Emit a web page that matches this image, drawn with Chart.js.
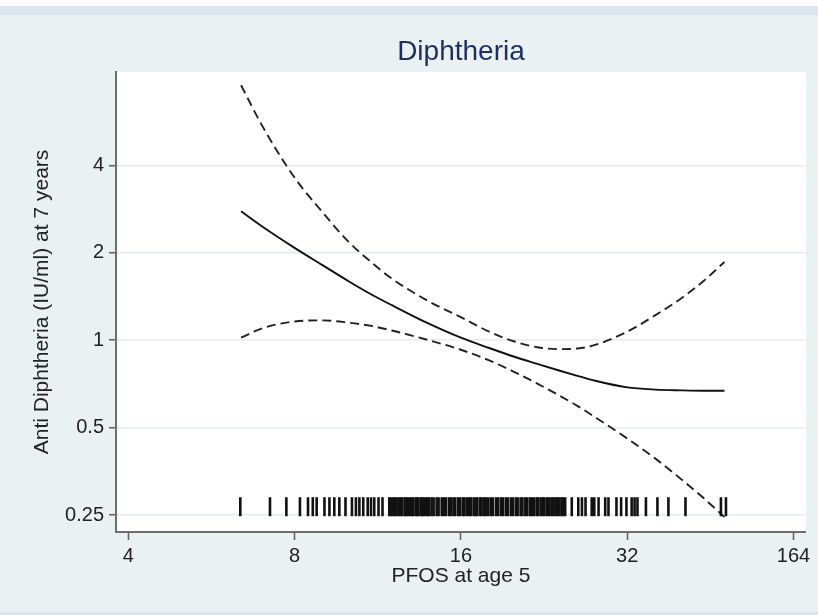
<!DOCTYPE html>
<html>
<head>
<meta charset="utf-8">
<script src="https://cdn.jsdelivr.net/npm/chart.js@4.4.1/dist/chart.umd.min.js"></script>
<style>
  body { margin: 0; background: #e9f1f3; }
  #wrap { width: 818px; height: 615px; }
</style>
</head>
<body>
<div id="wrap"><canvas id="pfosChart" width="818" height="615"></canvas></div>
<script>
const pfos = [6.4, 7, 8, 9, 10, 11, 12, 14, 16, 18, 20, 22, 24, 26, 28, 32, 36, 40, 44, 48];
const fitted = [2.78, 2.46, 2.08, 1.81, 1.60, 1.44, 1.32, 1.14, 1.02, 0.94, 0.877, 0.829, 0.788, 0.754, 0.725, 0.688, 0.676, 0.672, 0.67, 0.67];
const upperCI = [7.55, 5.45, 3.63, 2.75, 2.19, 1.86, 1.63, 1.36, 1.20, 1.07, 0.99, 0.946, 0.932, 0.936, 0.963, 1.07, 1.22, 1.39, 1.60, 1.86];
const lowerCI = [1.02, 1.10, 1.16, 1.17, 1.15, 1.12, 1.08, 1.00, 0.927, 0.852, 0.777, 0.709, 0.648, 0.594, 0.543, 0.459, 0.391, 0.333, 0.286, 0.246];

// observed PFOS values (rug)
const rugValues = [
  6.38, 7.22, 7.73, 8.18, 8.46, 8.63, 8.77, 9.06, 9.25, 9.44, 9.64, 9.89,
  10.16, 10.33, 10.48, 10.65, 10.85, 11.0, 11.15, 11.35, 11.54,
  11.87, 11.95, 12.07, 12.16, 12.24, 12.36, 12.45, 12.53, 12.66, 12.74, 12.83,
  12.95, 13.04, 13.12, 13.25, 13.33, 13.41, 13.55, 13.62, 13.71, 13.84, 13.92, 14.02,
  14.16, 14.28, 14.46, 14.58, 14.77, 14.9, 15.03, 15.22, 15.34, 15.51, 15.63, 15.82,
  15.94, 16.12, 16.24, 16.41, 16.57, 16.68, 16.87, 17.01, 17.13, 17.32, 17.44, 17.62,
  17.74, 17.93, 18.12, 18.28, 18.52, 18.69, 18.91, 19.08, 19.31, 19.48, 19.72, 19.88,
  20.12, 20.27, 20.52, 20.68, 20.93, 21.08, 21.32, 21.51, 21.68, 21.93, 22.08, 22.31,
  22.52, 22.67, 22.92, 23.08, 23.33, 23.49, 23.72, 23.91, 24.1, 24.33, 24.48, 24.71,
  25.4, 26.1, 26.5, 26.9, 27.6, 27.9, 28.4, 29.2, 29.6, 30.6, 31.2, 31.9,
  32.6, 33.0, 33.4, 34.6, 36.3, 38.0, 40.8, 47.3, 48.3
];
const rugLevel = 0.267;

const xTicks = [4, 8, 16, 32, 64];
const xTickLabels = ['4', '8', '16', '32', '164'];
const yTicks = [0.25, 0.5, 1, 2, 4];
const yTickLabels = ['0.25', '0.5', '1', '2', '4'];

const chartTitle = 'Diphtheria';
const fontFamily = 'Arial, "Liberation Sans", Helvetica, sans-serif';

function toPoints(ys) {
    return pfos.map((x, i) => ({ x: x, y: ys[i] }));
}

// page background, white plot region and the title centred over the plot
const backdrop = {
    id: 'backdrop',
    beforeDraw(chart) {
        const c = chart.ctx;
        const a = chart.chartArea;
        c.save();
        c.fillStyle = '#e9f1f3';
        c.fillRect(0, 0, chart.width, chart.height);
        c.fillStyle = '#ffffff';
        c.fillRect(0, 0, chart.width, 6);
        c.fillStyle = '#dbe6f1';
        c.fillRect(0, 6, chart.width, 9);
        c.fillRect(0, chart.height - 3, chart.width, 3);
        c.fillStyle = '#ffffff';
        c.fillRect(a.left, a.top, a.right - a.left, a.bottom - a.top);

        c.fillStyle = '#1e2f5e';
        c.font = '28px ' + fontFamily;
        c.textAlign = 'center';
        c.textBaseline = 'middle';
        c.fillText(chartTitle, (a.left + a.right) / 2, 52);
        c.restore();
    }
};

const ctx = document.getElementById('pfosChart');

new Chart(ctx, {
    type: 'scatter',
    data: {
        datasets: [
            {
                label: 'PFOS',
                data: rugValues.map(v => ({ x: v, y: rugLevel })),
                pointStyle: 'line',
                rotation: 90,
                pointRadius: 9.5,
                pointHoverRadius: 9.5,
                borderColor: '#111111',
                borderWidth: 2.6,
                showLine: false
            },
            {
                label: 'Upper',
                data: toPoints(upperCI),
                showLine: true,
                borderColor: '#222222',
                borderWidth: 1.9,
                borderDash: [9, 5],
                pointRadius: 0,
                cubicInterpolationMode: 'monotone'
            },
            {
                label: 'Fit',
                data: toPoints(fitted),
                showLine: true,
                borderColor: '#111111',
                borderWidth: 1.9,
                pointRadius: 0,
                cubicInterpolationMode: 'monotone'
            },
            {
                label: 'Lower',
                data: toPoints(lowerCI),
                showLine: true,
                borderColor: '#222222',
                borderWidth: 1.9,
                borderDash: [9, 5],
                pointRadius: 0,
                cubicInterpolationMode: 'monotone'
            }
        ]
    },
    options: {
        responsive: false,
        animation: false,
        devicePixelRatio: 1,
        layout: { padding: { left: 0, right: 9, top: 72, bottom: 0 } },
        plugins: {
            legend: { display: false },
            tooltip: { enabled: false },
            title: { display: false }
        },
        scales: {
            x: {
                type: 'logarithmic',
                min: 3.8,
                max: 67.4,
                afterBuildTicks: (axis) => { axis.ticks = xTicks.map(v => ({ value: v })); },
                afterFit: (axis) => { axis.height = 83; },
                ticks: {
                    color: '#222222',
                    font: { family: fontFamily, size: 20 },
                    padding: 4,
                    maxRotation: 0,
                    autoSkip: false,
                    callback: (value, index) => xTickLabels[index]
                },
                grid: { drawOnChartArea: false, tickLength: 8, tickColor: '#666666', tickWidth: 1.6 },
                border: { color: '#6e6e6e', width: 2 },
                title: {
                    display: true,
                    text: 'PFOS at age 5',
                    color: '#222222',
                    font: { family: fontFamily, size: 21 },
                    padding: { top: 0, bottom: 26 }
                }
            },
            y: {
                type: 'logarithmic',
                min: 0.2185,
                max: 8.39,
                afterBuildTicks: (axis) => { axis.ticks = yTicks.map(v => ({ value: v })); },
                afterFit: (axis) => { axis.width = 116; },
                ticks: {
                    color: '#222222',
                    font: { family: fontFamily, size: 20 },
                    padding: 5,
                    autoSkip: false,
                    callback: (value, index) => yTickLabels[index]
                },
                grid: { color: '#e4edf0', lineWidth: 1.5, tickLength: 7, tickColor: '#666666', tickWidth: 1.6 },
                border: { color: '#6e6e6e', width: 2 },
                title: {
                    display: true,
                    text: 'Anti Diphtheria (IU/ml) at 7 years',
                    color: '#222222',
                    font: { family: fontFamily, size: 21 },
                    padding: { top: 30, bottom: 0 }
                }
            }
        }
    },
    plugins: [backdrop]
});
</script>
</body>
</html>
